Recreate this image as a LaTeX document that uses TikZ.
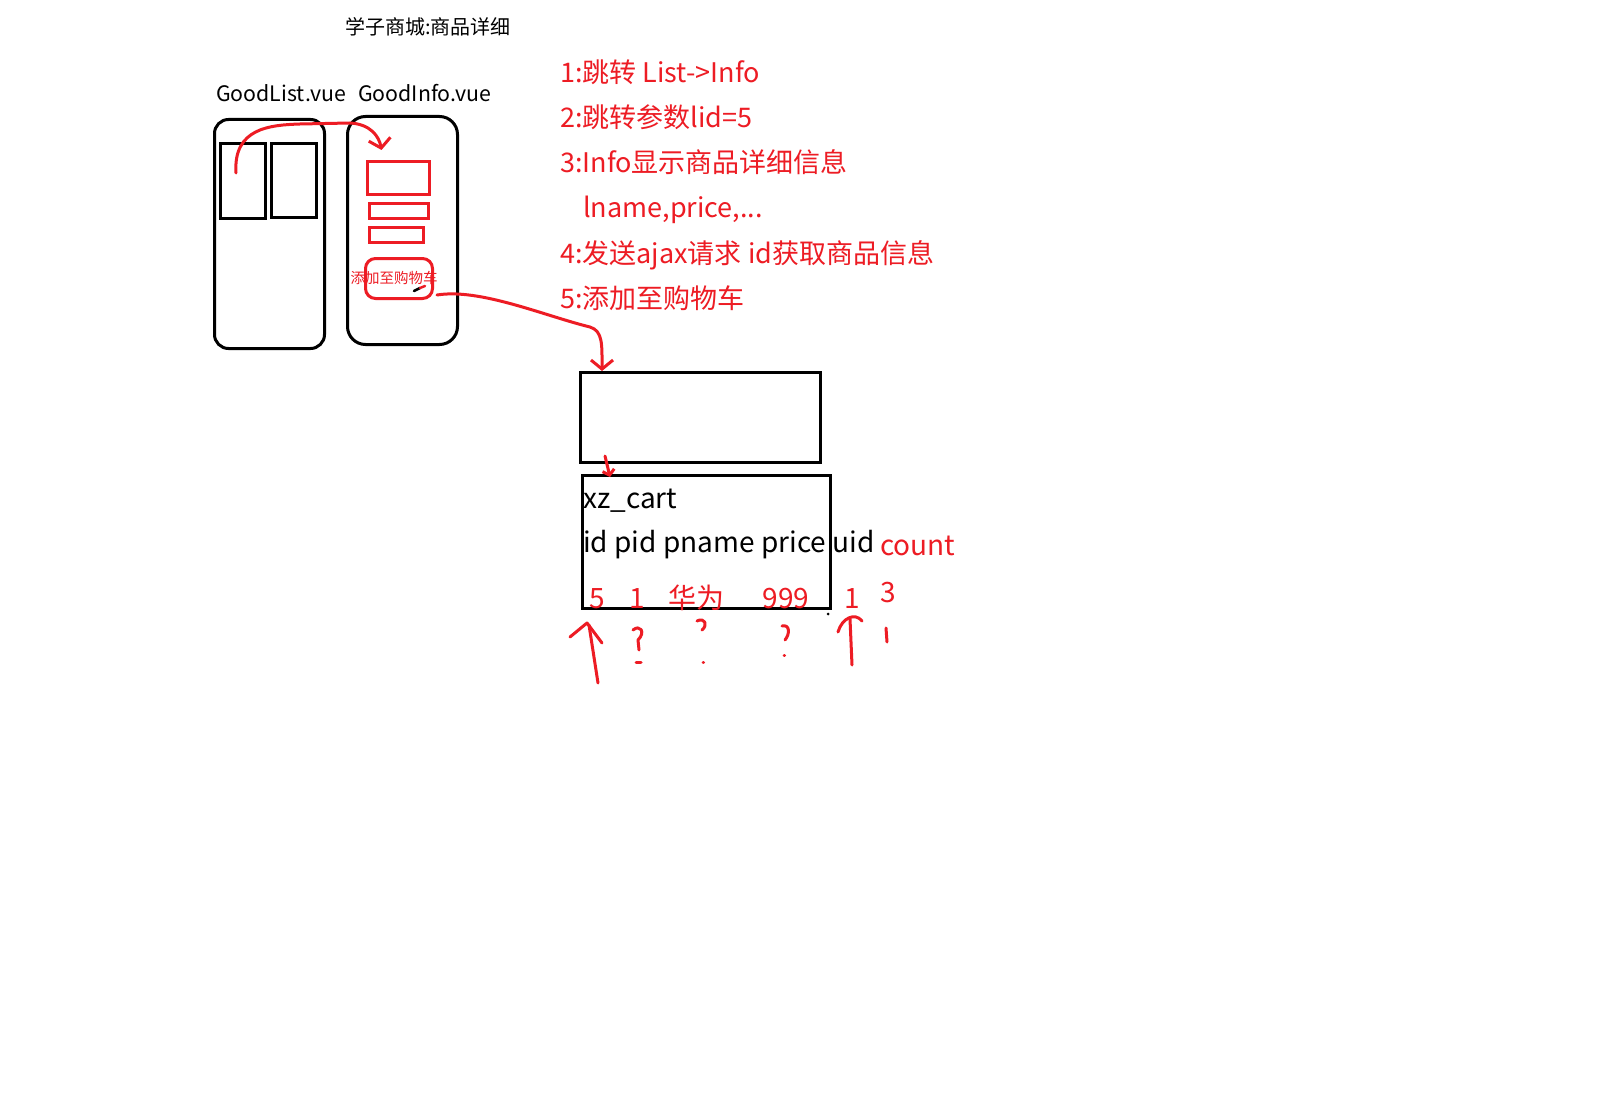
\documentclass[tikz,border=0pt]{standalone}
\usepackage{fontspec}
\setmainfont{Noto Sans CJK SC}
\usetikzlibrary{arrows.meta,calc}
\definecolor{penred}{RGB}{237,28,36}
\tikzset{
  pen/.style={line width=3pt, line cap=round, line join=round},
  redpen/.style={pen, draw=penred},
  blackbox/.style={draw=black, line width=3pt, inner sep=0pt, anchor=north west},
  redbox/.style={draw=penred, line width=3pt, inner sep=0pt, anchor=north west},
  label/.style={anchor=west, inner sep=0pt},
  note/.style={anchor=base west, inner sep=0pt, text=penred, font=\fontsize{27}{32}\selectfont},
  cell/.style={anchor=base, inner sep=0pt, text=penred, font=\fontsize{28}{32}\selectfont},
  penhead/.style={-{Straight Barb[length=9pt,width=22pt]}},
}
\begin{document}
\begin{tikzpicture}[x=1pt,y=-1pt]
  \useasboundingbox[fill=white] (0,0) rectangle (1606,1102);

  % 标题与页面名
  \node[label, font=\fontsize{20}{24}\selectfont] (title) at (345,27) {学子商城:商品详细};
  \node[label, font=\fontsize{21.3}{26}\selectfont] (listname) at (216,93) {GoodList.vue};
  \node[label, font=\fontsize{21.3}{26}\selectfont] (infoname) at (358,93) {GoodInfo.vue};

  % GoodList 页面
  \node[blackbox, rounded corners=14pt, minimum width=110pt, minimum height=229pt] (goodlist) at (213,118) {};
  \node[blackbox, minimum width=45pt, minimum height=75pt] (item1) at (219,142) {};
  \node[blackbox, minimum width=45pt, minimum height=74pt] (item2) at (270,142) {};

  % GoodInfo 页面
  \node[blackbox, rounded corners=18pt, minimum width=110pt, minimum height=228pt] (goodinfo) at (346,115) {};
  \node[redbox, minimum width=62pt, minimum height=33pt] (infoimg) at (366,160) {};
  \node[redbox, minimum width=59pt, minimum height=15pt] (infotitle) at (368,202) {};
  \node[redbox, minimum width=54pt, minimum height=15pt] (infoprice) at (368,226) {};
  \node[redbox, rounded corners=10pt, minimum width=67pt, minimum height=40pt] (cartbtn) at (364,257) {};
  \node[inner sep=0pt, text=penred, font=\fontsize{14.5}{16}\selectfont] (cartbtntext) at (394,278) {添加至购物车};
  \draw[pen, line width=2.5pt] (414,291) -- (420,288);
  \draw[pen, draw=penred, line width=2.5pt] (420,288) -- (425,286);

  % 步骤说明
  \node[note] (step1) at (560,83) {1:跳转 List->Info};
  \node[note] (step2) at (560,128) {2:跳转参数lid=5};
  \node[note] (step3) at (560,173) {3:Info显示商品详细信息};
  \node[note] (step3b) at (583,218) {lname,price,...};
  \node[note] (step4) at (560,263) {4:发送ajax请求 id获取商品信息};
  \node[note] (step5) at (560,308) {5:添加至购物车};

  % 接口与购物车表
  \node[blackbox, minimum width=240pt, minimum height=90pt] (apibox) at (579,371) {};
  \node[blackbox, minimum width=248pt, minimum height=133pt] (cartbox) at (581,474) {};
  \node[anchor=base west, inner sep=0pt, font=\fontsize{28}{32}\selectfont] (tablename) at (583,508) {xz\_cart};
  \node[anchor=base west, inner sep=0pt, font=\fontsize{28}{32}\selectfont] (columns) at (583,552) {id pid pname price uid};
  \node[anchor=base west, inner sep=0pt, text=penred, font=\fontsize{28}{32}\selectfont] (countcol) at (880,555) {count};

  % 示例数据
  \node[cell] (val5) at (597,608) {5};
  \node[cell] (valpid) at (637,608) {1};
  \node[cell] (valname) at (696,608) {华为};
  \node[cell] (valprice) at (786,608) {999};
  \node[cell] (valuid) at (852,608) {1};
  \node[cell] (valcount) at (888,602) {3};
  \fill (828,614) circle (1.5pt);

  % 连线
  \coordinate (tapstart) at (236,173);
  \coordinate (tapend) at ($(infoimg.north)+(-17,-10)$);
  \draw[redpen, penhead] (tapstart) .. controls (233,128) and (270,125) .. (300,124)
    -- (350,123) .. controls (370,124) and (379,136) .. (tapend);
  \coordinate (clickstart) at (437,295);
  \draw[redpen, penhead] (clickstart) .. controls (480,288) and (545,316) .. (590,327)
    .. controls (603,331) and (602,345) .. ($(apibox.north west)+(23,0)$);
  \draw[redpen, -{Straight Barb[length=5pt,width=12pt]}] ($(apibox.south west)+(26,-8)$) -- ($(cartbox.north west)+(29,3)$);

  % 下方标记
  \coordinate (idmark) at (598,683);
  \draw[redpen] (idmark) -- (589,625);
  \draw[redpen] (570,637) -- (587,623) -- (602,643);
  \coordinate (uidmark) at (852,665);
  \draw[redpen] (uidmark) -- (850,619);
  \draw[redpen] (838,632) .. controls (842,618) and (855,612) .. (862,621);
  \draw[redpen] (633,630) .. controls (640,624) and (646,632) .. (638,640) -- (639,650);
  \draw[redpen] (636,662) -- (641,662);
  \draw[redpen] (697,621) .. controls (705,617) and (708,625) .. (702,630);
  \draw[redpen] (703,662) -- (703.5,662);
  \draw[redpen] (782,626) .. controls (790,624) and (790,634) .. (785,640);
  \draw[redpen] (784,655) -- (784.5,655);
  \draw[redpen] (886,628) -- (887,642);
\end{tikzpicture}
\end{document}
